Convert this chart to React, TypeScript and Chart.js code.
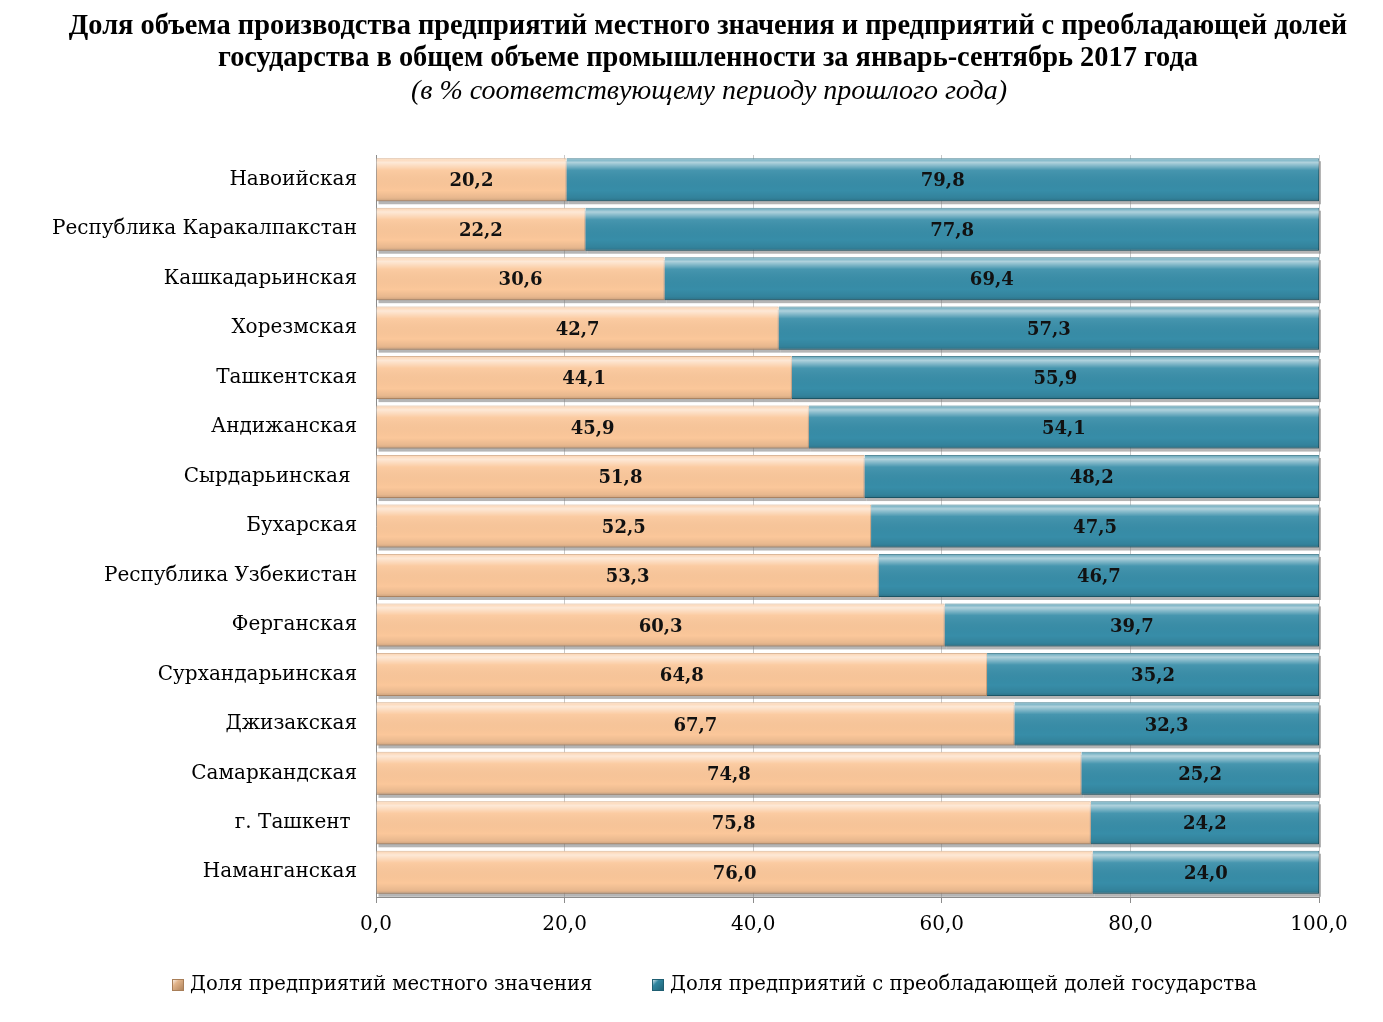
import React, { useEffect, useRef } from "react";
import { Chart, registerables } from "chart.js";

Chart.register(...registerables);

const titleLines = [
  "Доля объема производства предприятий местного значения и предприятий с преобладающей долей",
  "государства в общем объеме промышленности за январь-сентябрь 2017 года",
];
const subtitleText = "(в % соответствующему периоду прошлого года)";

const categories = [
  "Навоийская",
  "Республика Каракалпакстан",
  "Кашкадарьинская",
  "Хорезмская",
  "Ташкентская",
  "Андижанская",
  "Сырдарьинская ",
  "Бухарская",
  "Республика Узбекистан",
  "Ферганская",
  "Сурхандарьинская",
  "Джизакская",
  "Самаркандская",
  "г. Ташкент ",
  "Наманганская",
];

const localShare = [20.2, 22.2, 30.6, 42.7, 44.1, 45.9, 51.8, 52.5, 53.3, 60.3, 64.8, 67.7, 74.8, 75.8, 76.0];
const stateShare = [79.8, 77.8, 69.4, 57.3, 55.9, 54.1, 48.2, 47.5, 46.7, 39.7, 35.2, 32.3, 25.2, 24.2, 24.0];

const seriesNames = [
  "Доля предприятий местного значения",
  "Доля предприятий с преобладающей долей государства",
];

const SERIF = "'Liberation Serif', 'Times New Roman', serif";
const WIDE = "'DejaVu Serif', serif";

const fmt = (v: number) => v.toFixed(1).replace(".", ",");

const titlePlugin = {
  id: "customTitle",
  afterDraw(chart: any) {
    const ctx = chart.ctx;
    ctx.save();
    ctx.fillStyle = "#000";
    ctx.textAlign = "center";
    ctx.textBaseline = "middle";
    ctx.font = `bold 28.4px ${SERIF}`;
    ctx.fillText(titleLines[0], 708, 27);
    ctx.fillText(titleLines[1], 708, 59);
    ctx.font = `italic 28px ${SERIF}`;
    ctx.fillText(subtitleText, 709, 92);

    // legend
    const legendY = 985;
    const items = [
      { x: 172, fill: "#E2B48A", stroke: "#A87E58", text: seriesNames[0] },
      { x: 652, fill: "#2F86A0", stroke: "#1F5F72", text: seriesNames[1] },
    ];
    items.forEach((it) => {
      const g = ctx.createLinearGradient(it.x, legendY - 6, it.x + 12, legendY + 6);
      g.addColorStop(0, "#ffffff");
      g.addColorStop(0.35, it.fill);
      g.addColorStop(1, it.stroke);
      ctx.fillStyle = g;
      ctx.fillRect(it.x, legendY - 6, 12, 12);
      ctx.strokeStyle = it.stroke;
      ctx.lineWidth = 1;
      ctx.strokeRect(it.x + 0.5, legendY - 5.5, 11, 11);
      ctx.fillStyle = "#000";
      ctx.font = `19.6px ${WIDE}`;
      ctx.textAlign = "left";
      ctx.fillText(it.text, it.x + 18, legendY);
    });
    ctx.restore();
  },
};

const shadowPlugin = {
  id: "barShadow",
  beforeDatasetsDraw(chart: any) {
    const ctx = chart.ctx;
    ctx.save();
    ctx.fillStyle = "rgba(120,120,120,0.55)";
    const metas = chart.getSortedVisibleDatasetMetas();
    metas.forEach((meta: any) => {
      meta.data.forEach((el: any) => {
        const { x, y, base, height } = el.getProps(["x", "y", "base", "height"], true);
        const left = Math.min(x, base);
        const w = Math.abs(x - base);
        ctx.fillRect(left + 2, y - height / 2 + 3, w, height);
      });
    });
    ctx.restore();
  },
  afterDatasetsDraw(chart: any) {
    const ctx = chart.ctx;
    ctx.save();
    const metas = chart.getSortedVisibleDatasetMetas();
    metas.forEach((meta: any) => {
      meta.data.forEach((el: any, i: number) => {
        const { x, y, base, height } = el.getProps(["x", "y", "base", "height"], true);
        const left = Math.min(x, base);
        const w = Math.abs(x - base);
        const top = y - height / 2;
        const g = ctx.createLinearGradient(0, top, 0, top + height);
        g.addColorStop(0, "rgba(255,255,255,0.2)");
        g.addColorStop(0.1, "rgba(255,255,255,0.6)");
        g.addColorStop(0.28, "rgba(255,255,255,0.08)");
        g.addColorStop(0.75, "rgba(0,0,0,0)");
        g.addColorStop(0.92, "rgba(0,0,0,0.08)");
        g.addColorStop(1, "rgba(0,0,0,0.2)");
        ctx.fillStyle = g;
        ctx.fillRect(left, top, w, height);
        const val = chart.data.datasets[meta.index].data[i];
        ctx.fillStyle = "#111";
        ctx.font = `bold 18px ${WIDE}`;
        ctx.textAlign = "center";
        ctx.textBaseline = "middle";
        ctx.fillText(fmt(val), left + w / 2, y + 2);
      });
    });
    ctx.restore();
  },
};

export default function App() {
  const ref = useRef<HTMLCanvasElement>(null);
  useEffect(() => {
    if (!ref.current) return;
    const chart = new Chart(ref.current, {
      type: "bar",
      data: {
        labels: categories,
        datasets: [
          {
            label: seriesNames[0],
            data: localShare,
            backgroundColor: "#FBC79A",
            borderColor: "#CFA078",
            borderWidth: 1,
            barPercentage: 0.87,
            categoryPercentage: 1,
          },
          {
            label: seriesNames[1],
            data: stateShare,
            backgroundColor: "#378DA8",
            borderColor: "#22677B",
            borderWidth: 1,
            barPercentage: 0.87,
            categoryPercentage: 1,
          },
        ],
      },
      options: {
        indexAxis: "y",
        animation: false,
        responsive: false,
        maintainAspectRatio: false,
        layout: { padding: { top: 155, left: 10, right: 64, bottom: 57 } },
        scales: {
          x: {
            stacked: true,
            min: 0,
            max: 100,
            ticks: {
              stepSize: 20,
              callback: (v: any) => fmt(Number(v)),
              color: "#000",
              font: { family: WIDE, size: 20 },
              padding: 10,
            },
            grid: { color: "#c8c8c8", drawTicks: true, tickLength: 6, tickColor: "#8c8c8c" },
            border: { color: "#8c8c8c" },
            afterFit: (s: any) => {
              s.height = 68;
            },
          },
          y: {
            stacked: true,
            ticks: { color: "#000", font: { family: WIDE, size: 20 }, padding: 11 },
            grid: { display: false },
            border: { color: "#8c8c8c" },
            afterFit: (s: any) => {
              s.width = 366;
            },
          },
        },
        plugins: {
          legend: { display: false },
          tooltip: { enabled: false },
          title: { display: false },
        },
      },
      plugins: [titlePlugin, shadowPlugin],
    });
    return () => chart.destroy();
  }, []);
  return (
    <div style={{ position: "fixed", left: 0, top: 0, width: 1383, height: 1022, background: "#fff" }}>
      <canvas ref={ref} width={1383} height={1022} style={{ width: 1383, height: 1022 }} />
    </div>
  );
}
